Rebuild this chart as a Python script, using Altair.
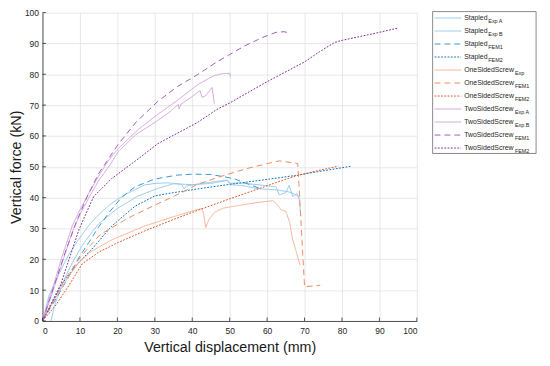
import altair as alt
import pandas as pd

# ---------------- data ----------------
series_names = [
    "Stapled Exp A", "Stapled Exp B", "Stapled FEM1", "Stapled FEM2",
    "OneSidedScrew Exp", "OneSidedScrew FEM1", "OneSidedScrew FEM2",
    "TwoSidedScrew Exp A", "TwoSidedScrew Exp B", "TwoSidedScrew FEM1", "TwoSidedScrew FEM2",
]
legend_base = ["Stapled"] * 4 + ["OneSidedScrew"] * 3 + ["TwoSidedScrew"] * 4
legend_sub = ["Exp A", "Exp B", "FEM1", "FEM2", "Exp", "FEM1", "FEM2",
              "Exp A", "Exp B", "FEM1", "FEM2"]
x_ticks = [0, 10, 20, 30, 40, 50, 60, 70, 80, 90, 100]
y_ticks = [0, 10, 20, 30, 40, 50, 60, 70, 80, 90, 100]

stapled_expA_x = [0, 1.8, 4.5, 7, 9.7, 12.4, 15, 18.5, 22, 27.3, 30, 33.4, 36, 37.2, 37.8, 38.5,
                  42, 45, 49.2, 50, 52, 55, 58, 62.4, 63.2, 65, 65.9, 66.8, 68, 68.5]
stapled_expA_y = [0, 8.4, 15.5, 21.5, 26.5, 31, 34.5, 38.2, 41, 44.1, 44.6, 44.8, 44.5, 44.2, 42.8, 43.8,
                  44.5, 45, 45.7, 44.6, 44.8, 44.5, 44.1, 43.5, 40.9, 41.6, 44, 40.4, 41.4, 39.8]
stapled_expB_x = [2.3, 3.2, 4.5, 6, 8, 10.6, 13, 15, 20, 25.5, 30.8, 35, 40, 45, 49.5, 50.2,
                  54, 57, 60, 62.4, 64, 65.4, 67, 68.5, 69]
stapled_expB_y = [0, 5, 9.5, 14, 19, 24.5, 28.5, 31.5, 36.5, 40.5, 43, 44.5, 44.2, 44.6, 45.6, 44.2,
                  43.8, 43, 42.7, 42.5, 42.2, 42, 41.3, 40.3, 34]
stapled_fem1_x = [0, 4, 8, 9.7, 12.4, 15, 18, 21.1, 24.7, 29.9, 36, 40, 45, 48.3, 51, 54.5, 58]
stapled_fem1_y = [0, 8, 16.5, 20.5, 25.5, 30.5, 35.5, 40, 43.5, 46, 47.3, 47.6, 47.5, 46.8, 46.2, 44.6, 43]
stapled_fem2_x = [0, 4.5, 9.7, 13.2, 18.5, 24.7, 29.9, 33.4, 41.3, 50, 62.4, 67.6, 82.5]
stapled_fem2_y = [0, 11, 19, 23.3, 30.8, 37.2, 40.5, 41.3, 42.8, 44.3, 46.3, 47.2, 50.2]

onesided_exp_x = [0, 2, 4.5, 7, 9.7, 13, 18.5, 27.3, 36, 42.5, 43, 43.6, 44.5, 46, 48.3, 53.6,
                  58, 61.5, 62.4, 63.7, 65, 66, 66.8, 67.6, 68.8]
onesided_exp_y = [0, 4.5, 9.5, 14.5, 19, 22.5, 26.3, 30.8, 34.2, 36.5, 35, 30.3, 33, 35.3, 36.6, 37.7,
                  38.5, 39, 38.2, 36.1, 35.6, 32, 26.5, 23.3, 18]
onesided_fem1_x = [0, 3, 6, 9.7, 12.4, 15.4, 22.9, 29.9, 37.8, 41.3, 48, 54.5, 60, 63.2, 67.6, 68.2, 70, 74.2]
onesided_fem1_y = [0, 7, 13.5, 20, 24, 28, 33.4, 37.5, 42, 44.3, 47, 49.4, 51, 51.9, 51.2, 51, 11.1, 11.6]
onesided_fem2_x = [0, 3.6, 7.1, 10.6, 15, 20.3, 27.3, 36, 41.3, 50, 57.1, 62.4, 67.6, 73, 79]
onesided_fem2_y = [0, 5.2, 11.6, 18.5, 22.3, 25.5, 29.2, 33.4, 35.8, 39.6, 42.6, 44.9, 47, 48.6, 50.2]

twosided_expA_x = [0, 1, 2.7, 5, 8, 10, 12.4, 15, 17.6, 20.3, 25.5, 30.8, 36, 41.3, 45.7, 48, 50, 50.2]
twosided_expA_y = [0, 4, 10.5, 20, 31, 36, 41.5, 47, 52, 56, 62, 67, 71.5, 76.5, 79.5, 80.2, 80.3, 79.2]
twosided_expB_x = [0, 1.2, 3, 5.3, 8, 10, 12.4, 15, 18, 20.3, 25, 30.8, 34, 36.3, 36.5, 37,
                   40, 42.1, 42.6, 43.5, 45.3, 45.9]
twosided_expB_y = [0, 4, 10.5, 19, 29, 34.5, 40, 45.5, 50.5, 55, 60.5, 65, 67.8, 70.2, 68.8, 70.3,
                   72.8, 74.7, 72.5, 73, 75.7, 70.5]
twosided_fem1_x = [0, 3, 6, 9, 12, 15, 20.3, 25, 30.8, 36, 41.3, 46.6, 50, 54, 58.9, 62.4, 64.5, 66]
twosided_fem1_y = [0, 11, 22, 32, 40.5, 47.8, 57.4, 64.5, 71.2, 76, 79.8, 84, 86.4, 89.2, 92, 93.6, 93.8, 93.4]
twosided_fem2_x = [0, 2, 4.5, 7.1, 9.7, 11.5, 13.7, 18.5, 25.5, 30.8, 41.3, 46.6, 50, 60, 70, 74, 78,
                   80, 90, 95]
twosided_fem2_y = [0, 4.5, 10.5, 20, 29.5, 34.5, 40.4, 46.2, 52.5, 57.5, 64.3, 68.6, 70.7, 77.6, 84,
                   87.3, 90.3, 91, 93.6, 95]

xs_all = [stapled_expA_x, stapled_expB_x, stapled_fem1_x, stapled_fem2_x,
          onesided_exp_x, onesided_fem1_x, onesided_fem2_x,
          twosided_expA_x, twosided_expB_x, twosided_fem1_x, twosided_fem2_x]
ys_all = [stapled_expA_y, stapled_expB_y, stapled_fem1_y, stapled_fem2_y,
          onesided_exp_y, onesided_fem1_y, onesided_fem2_y,
          twosided_expA_y, twosided_expB_y, twosided_fem1_y, twosided_fem2_y]

# ---------------- styles ----------------
colors = ["#8fc6ea", "#8fc6ea", "#3a95d3", "#0b6fbf",
          "#f5ae94", "#ef8a5e", "#e0521d",
          "#cfa2d9", "#cfa2d9", "#a45bbf", "#7e2c96"]
dashes = [[1, 0], [1, 0], [6, 4], [1.8, 1.5],
          [1, 0], [6, 4], [1.8, 1.5],
          [1, 0], [1, 0], [6, 4], [1.8, 1.5]]
widths = [1, 1, 1.2, 2, 1, 1.2, 2, 1, 1, 1.2, 2]
sub_offset = {"Stapled": 24.5, "OneSidedScrew": 51.5, "TwoSidedScrew": 51.5}

rows = []
for name, xs, ys in zip(series_names, xs_all, ys_all):
    for i, (a, b) in enumerate(zip(xs, ys)):
        rows.append({"series": name, "disp": a, "force": b, "i": i})
df = pd.DataFrame(rows)

leg_df = pd.DataFrame({"series": series_names, "base": legend_base,
                       "sub": legend_sub, "row": list(range(len(series_names)))})

FONT = "Liberation Sans"
AXIS_COLOR = "#262626"
color_scale = alt.Scale(domain=series_names, range=colors)
dash_scale = alt.Scale(domain=series_names, range=dashes)
width_scale = alt.Scale(domain=series_names, range=widths)
x_scale = alt.Scale(domain=[0, 100], nice=False)
y_scale = alt.Scale(domain=[0, 100], nice=False)
x_axis = alt.Axis(values=x_ticks, title="Vertical displacement (mm)", labelPadding=6, titlePadding=5)

lines = alt.Chart(df).mark_line(strokeCap="butt", strokeJoin="round").encode(
    x=alt.X("disp:Q", scale=x_scale, axis=x_axis),
    y=alt.Y("force:Q", scale=y_scale,
            axis=alt.Axis(values=y_ticks, title="Vertical force (kN)",
                          labelPadding=4, titlePadding=1)),
    color=alt.Color("series:N", scale=color_scale, legend=None),
    strokeDash=alt.StrokeDash("series:N", scale=dash_scale, legend=None),
    strokeWidth=alt.StrokeWidth("series:N", scale=width_scale, legend=None),
    detail="series:N",
    order="i:Q",
)

# inward tick marks (MATLAB style)
xtick_marks = alt.Chart(pd.DataFrame({"t": x_ticks})).mark_rule(
    color=AXIS_COLOR, strokeWidth=0.8
).encode(x=alt.X("t:Q", scale=x_scale, axis=x_axis), y=alt.value(313), y2=alt.value(309.5))
ytick_marks = alt.Chart(pd.DataFrame({"t": y_ticks})).mark_rule(
    color=AXIS_COLOR, strokeWidth=0.8
).encode(y=alt.Y("t:Q", scale=y_scale, axis=None), x=alt.value(0), x2=alt.value(3.5))

row_y = alt.Y("row:Q", scale=alt.Scale(domain=[0, 10], range=[5.5, 137.5]), axis=None)

legend_box = alt.Chart(pd.DataFrame({"a": [0]})).mark_rect(
    fill="white", stroke="#6b6b6b", strokeWidth=0.8
).encode(x=alt.value(396), x2=alt.value(501), y=alt.value(-1), y2=alt.value(143))

legend_lines = alt.Chart(leg_df).mark_rule(strokeCap="butt").encode(
    x=alt.value(398), x2=alt.value(425), y=row_y,
    color=alt.Color("series:N", scale=color_scale, legend=None),
    strokeDash=alt.StrokeDash("series:N", scale=dash_scale, legend=None),
    strokeWidth=alt.StrokeWidth("series:N", scale=width_scale, legend=None),
)

legend_text = alt.Chart(leg_df).mark_text(
    align="left", baseline="middle", font=FONT, fontSize=7, color=AXIS_COLOR
).encode(x=alt.value(428), y=row_y, text="base:N")

sub_layers = []
for b, off in sub_offset.items():
    sub_layers.append(
        alt.Chart(leg_df).transform_filter(alt.datum.base == b).mark_text(
            align="left", baseline="middle", font=FONT, fontSize=5.5, color=AXIS_COLOR,
            dx=off, dy=3
        ).encode(x=alt.value(428), y=row_y, text="sub:N")
    )

chart = alt.layer(lines, xtick_marks, ytick_marks, legend_box, legend_lines, legend_text,
                  *sub_layers).resolve_scale(
    y="independent"
).properties(
    width=380, height=313,
    padding={"left": 35, "top": 2, "right": 127, "bottom": 40},
    autosize=alt.AutoSizeParams(type="none"),
).configure_view(stroke=None).configure_axis(
    labelFont=FONT, labelFontSize=8.6, labelColor=AXIS_COLOR,
    titleFont=FONT, titleFontSize=14.5, titleFontWeight="normal", titleColor="#1a1a1a",
    domainColor=AXIS_COLOR, domainWidth=0.8,
    gridColor="#e2e2e2", gridWidth=0.8,
    ticks=False,
)

chart.save("out.html", embed_options={"renderer": "svg", "actions": False})
